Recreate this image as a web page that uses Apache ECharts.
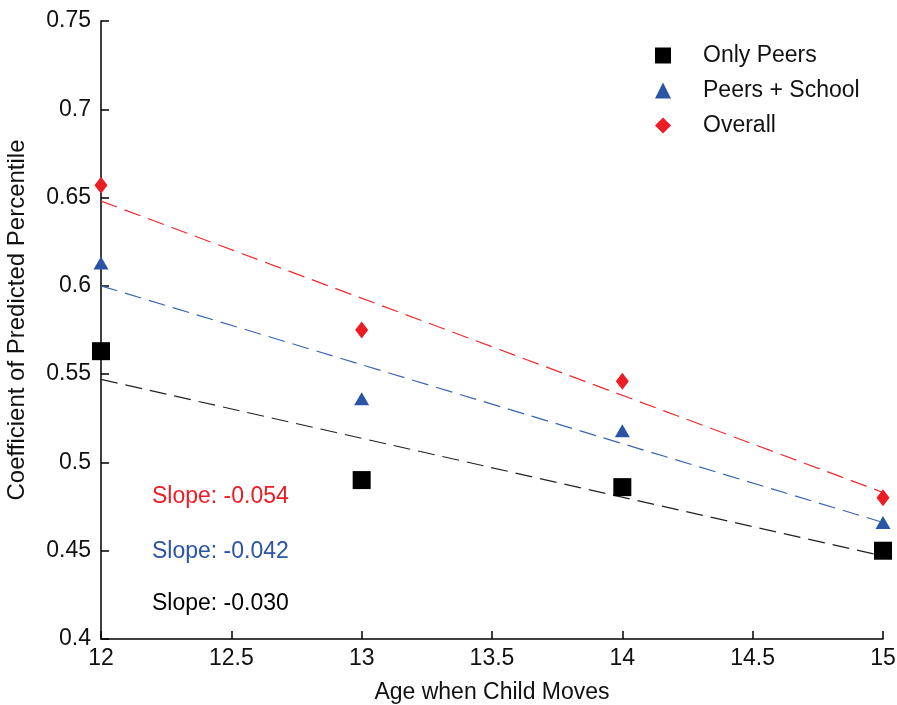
<!DOCTYPE html>
<html>
<head>
<meta charset="utf-8">
<script src="https://cdn.jsdelivr.net/npm/echarts@6/dist/echarts.min.js"></script>
<style>html,body{margin:0;padding:0;background:#fff;}#c{width:897px;height:705px;}</style>
</head>
<body>
<div id="c"></div>
<script>
const ages = [12, 13, 14, 15];
const onlyPeers = [0.563, 0.490, 0.486, 0.450];
const peersSchool = [0.613, 0.536, 0.518, 0.466];
const overall = [0.657, 0.575, 0.546, 0.480];
const fitX = [12, 15];
const fitOnlyPeers = [0.547, 0.447];
const fitPeersSchool = [0.600, 0.466];
const fitOverall = [0.648, 0.483];
const slopeLabels = ['Slope: -0.054', 'Slope: -0.042', 'Slope: -0.030'];
const seriesNames = ['Only Peers', 'Peers + School', 'Overall'];

const RED = '#ec1c24', BLUE = '#2a54a6', BLACK = '#000000';
const FONT = 'Liberation Sans';
const FS = 23;
const pts = (ys) => ages.map((x, i) => [x, ys[i]]);
const fit = (ys) => fitX.map((x, i) => [x, ys[i]]);

const chart = echarts.init(document.getElementById('c'), null, {renderer: 'canvas'});
chart.setOption({
  backgroundColor: '#fff',
  animation: false,
  textStyle: {fontFamily: FONT},
  grid: {left: 101, right: 14, top: 21, bottom: 66, containLabel: false, outerBoundsMode: 'none'},
  xAxis: {
    type: 'value', min: 12, max: 15, interval: 0.5,
    name: 'Age when Child Moves', nameLocation: 'middle', nameGap: 42,
    nameTextStyle: {fontSize: FS, color: '#111', fontFamily: FONT},
    axisLine: {lineStyle: {color: '#000', width: 1.5}},
    axisTick: {inside: true, length: 8, lineStyle: {color: '#000', width: 1.5}},
    axisLabel: {fontSize: FS, color: '#111', margin: 8, fontFamily: FONT},
    splitLine: {show: false}
  },
  yAxis: {
    type: 'value', min: 0.4, max: 0.75, interval: 0.05,
    name: 'Coefficient of Predicted Percentile', nameLocation: 'middle', nameGap: 72, nameRotate: 90,
    nameTextStyle: {fontSize: 24, color: '#111', fontFamily: FONT, padding: [0, 0, 0, 20]},
    axisLine: {show: true, lineStyle: {color: '#000', width: 1.5}},
    axisTick: {show: true, inside: true, length: 8, lineStyle: {color: '#000', width: 1.5}},
    axisLabel: {fontSize: FS, color: '#111', margin: 10, fontFamily: FONT},
    splitLine: {show: false}
  },
  legend: {
    orient: 'vertical', left: 650, top: 39,
    itemWidth: 16, itemHeight: 16, itemGap: 12,
    data: [
      {name: seriesNames[0], icon: 'rect'},
      {name: seriesNames[1], icon: 'triangle'},
      {name: seriesNames[2], icon: 'diamond'}
    ],
    textStyle: {fontSize: FS, color: '#111', fontFamily: FONT, padding: [0, 0, 0, 27]}
  },
  graphic: [
    {type: 'text', left: 152, top: 485, style: {text: slopeLabels[0], fill: RED, font: FS + 'px ' + FONT}},
    {type: 'text', left: 152, top: 540, style: {text: slopeLabels[1], fill: BLUE, font: FS + 'px ' + FONT}},
    {type: 'text', left: 152, top: 592, style: {text: slopeLabels[2], fill: BLACK, font: FS + 'px ' + FONT}}
  ],
  series: [
    {name: 'fit1', type: 'line', data: fit(fitOnlyPeers), showSymbol: false, silent: true, z: 1,
     lineStyle: {color: '#222', width: 1.2, type: [17, 8]}},
    {name: 'fit2', type: 'line', data: fit(fitPeersSchool), showSymbol: false, silent: true, z: 1,
     lineStyle: {color: '#3a64b4', width: 1.2, type: [17, 8]}},
    {name: 'fit3', type: 'line', data: fit(fitOverall), showSymbol: false, silent: true, z: 1,
     lineStyle: {color: '#ee2a30', width: 1.2, type: [17, 8]}},
    {name: seriesNames[0], type: 'scatter', data: pts(onlyPeers), symbol: 'rect', symbolSize: 18, z: 3,
     itemStyle: {color: BLACK, opacity: 1}},
    {name: seriesNames[1], type: 'scatter', data: pts(peersSchool), symbol: 'triangle', symbolSize: [15, 13], z: 3,
     itemStyle: {color: BLUE, opacity: 1}},
    {name: seriesNames[2], type: 'scatter', data: pts(overall), symbol: 'diamond', symbolSize: [13, 17], z: 3,
     itemStyle: {color: RED, opacity: 1}}
  ]
});
</script>
</body>
</html>
